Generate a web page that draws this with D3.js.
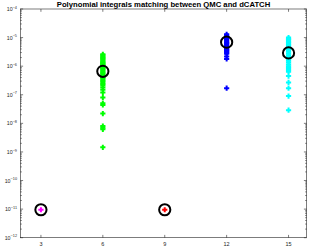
<!DOCTYPE html>
<html>
<head>
<meta charset="utf-8">
<script src="https://cdn.jsdelivr.net/npm/d3@7"></script>
<style>
  body { margin: 0; background: #fff; }
  svg { display: block; font-family: "Liberation Sans", Arial, sans-serif; }
</style>
</head>
<body>
<script>
const xTicks = [3, 6, 9, 12, 15]
const yExponents = [-12, -11, -10, -9, -8, -7, -6, -5, -4]

// pluses per degree
const deg3 = [9.5e-12]
const deg6 = [2.6e-6, 2.4e-6, 2.2e-6, 2.0e-6, 1.85e-6, 1.7e-6, 1.55e-6, 1.4e-6, 1.3e-6, 1.2e-6,
              1.1e-6, 1.0e-6, 9.2e-7, 8.5e-7, 7.8e-7, 7.0e-7, 6.4e-7, 5.8e-7, 5.2e-7, 4.7e-7,
              4.2e-7, 3.8e-7, 3.4e-7, 3.0e-7, 2.7e-7, 2.4e-7, 2.1e-7, 1.8e-7, 1.5e-7, 1.2e-7, 8.0e-8,
              5.0e-8, 4.4e-8, 2.2e-8, 8.0e-9, 7.0e-9, 6.2e-9, 1.45e-9]
const deg9 = [9.5e-12]
const deg12 = [1.3e-5, 1.15e-5, 1.0e-5, 9.0e-6, 8.0e-6, 7.2e-6, 6.5e-6, 5.8e-6, 5.2e-6, 4.6e-6,
               4.1e-6, 3.7e-6, 3.3e-6, 3.0e-6, 2.7e-6, 2.2e-6, 1.8e-6, 1.7e-7]
const deg15 = [1.0e-5, 9.0e-6, 8.0e-6, 7.0e-6, 6.2e-6, 5.5e-6, 4.8e-6, 4.2e-6, 3.7e-6, 3.2e-6,
               2.8e-6, 2.4e-6, 2.1e-6, 1.8e-6, 1.55e-6, 1.35e-6, 1.15e-6, 1.0e-6, 8.6e-7, 7.4e-7,
               6.4e-7, 4.5e-7, 2.7e-7, 1.7e-7, 9.0e-8, 2.9e-8]
// black circles (reference value)
const circleX = [3, 6, 9, 12, 15]
const circleY = [9.5e-12, 6.6e-7, 9.5e-12, 6.9e-6, 2.9e-6]

const groups = [
  { x: 3, vals: deg3, color: "#ff00ff" },
  { x: 6, vals: deg6, color: "#00ff00" },
  { x: 9, vals: deg9, color: "#ff0000" },
  { x: 12, vals: deg12, color: "#0000ff" },
  { x: 15, vals: deg15, color: "#00ffff" }
]

const w = 310
const h = 249
const mLeft = 20.3, mRight = 306.7, mTop = 9, mBottom = 237.7

const xScale = d3.scaleLinear().domain([2, 15.88]).range([mLeft, mRight])
const yScale = d3.scaleLog().domain([1e-12, 1e-4]).range([mBottom, mTop])

const svg = d3.select("body").append("svg")
              .attr("width", w)
              .attr("height", h)

// pluses
groups.forEach((g) => {
  const sel = svg.append("g")
  g.vals.forEach((v) => {
    const cx = xScale(g.x), cy = yScale(v)
    sel.append("path")
       .attr("d", `M${cx - 2.6},${cy}H${cx + 2.6}M${cx},${cy - 2.6}V${cy + 2.6}`)
       .attr("stroke", g.color)
       .attr("stroke-width", 2)
       .attr("fill", "none")
  })
})

svg.selectAll("circle.ref")
   .data(circleX)
   .enter()
   .append("circle")
   .attr("class", "ref")
   .attr("cx", (d) => xScale(d))
   .attr("cy", (d, i) => yScale(circleY[i]))
   .attr("r", 5.6)
   .attr("fill", "none")
   .attr("stroke", "#000")
   .attr("stroke-width", 2)

// axes, MATLAB style ticks inside
const axisColor = "#262626"
const minor = []
yExponents.slice(0, -1).forEach((e) => {
  for (let k = 2; k <= 9; k++) minor.push(k * Math.pow(10, e))
})

const ax = svg.append("g").attr("stroke", axisColor).attr("stroke-width", 0.6).attr("fill", "none")
ax.append("rect")
  .attr("x", mLeft).attr("y", mTop)
  .attr("width", mRight - mLeft).attr("height", mBottom - mTop)

xTicks.forEach((t) => {
  const x = xScale(t)
  ax.append("path").attr("d", `M${x},${mBottom}V${mBottom - 2.8}M${x},${mTop}V${mTop + 2.8}`)
})
yExponents.forEach((e) => {
  const y = yScale(Math.pow(10, e))
  ax.append("path").attr("d", `M${mLeft},${y}H${mLeft + 2.8}M${mRight},${y}H${mRight - 2.8}`)
})
minor.forEach((v) => {
  const y = yScale(v)
  ax.append("path").attr("d", `M${mLeft},${y}H${mLeft + 1.5}M${mRight},${y}H${mRight - 1.5}`)
})

svg.append("g").selectAll("text")
   .data(xTicks)
   .enter()
   .append("text")
   .attr("x", (d) => xScale(d))
   .attr("y", 246)
   .attr("text-anchor", "middle")
   .attr("font-size", 5.5)
   .attr("fill", axisColor)
   .text((d) => d)

const yl = svg.append("g").selectAll("text")
   .data(yExponents)
   .enter()
   .append("text")
   .attr("x", 17)
   .attr("y", (d) => yScale(Math.pow(10, d)) + 2)
   .attr("text-anchor", "end")
   .attr("font-size", 5.3)
   .attr("fill", axisColor)
yl.append("tspan").text("10")
yl.append("tspan").attr("dy", -2.3).attr("font-size", 3.8).text((d) => "\u2212" + (-d))

svg.append("text")
   .attr("x", 163.5)
   .attr("y", 6.7)
   .attr("text-anchor", "middle")
   .attr("font-size", 7.7)
   .attr("font-weight", "bold")
   .attr("fill", "#000")
   .text("Polynomial integrals matching between QMC and dCATCH")
</script>
</body>
</html>
